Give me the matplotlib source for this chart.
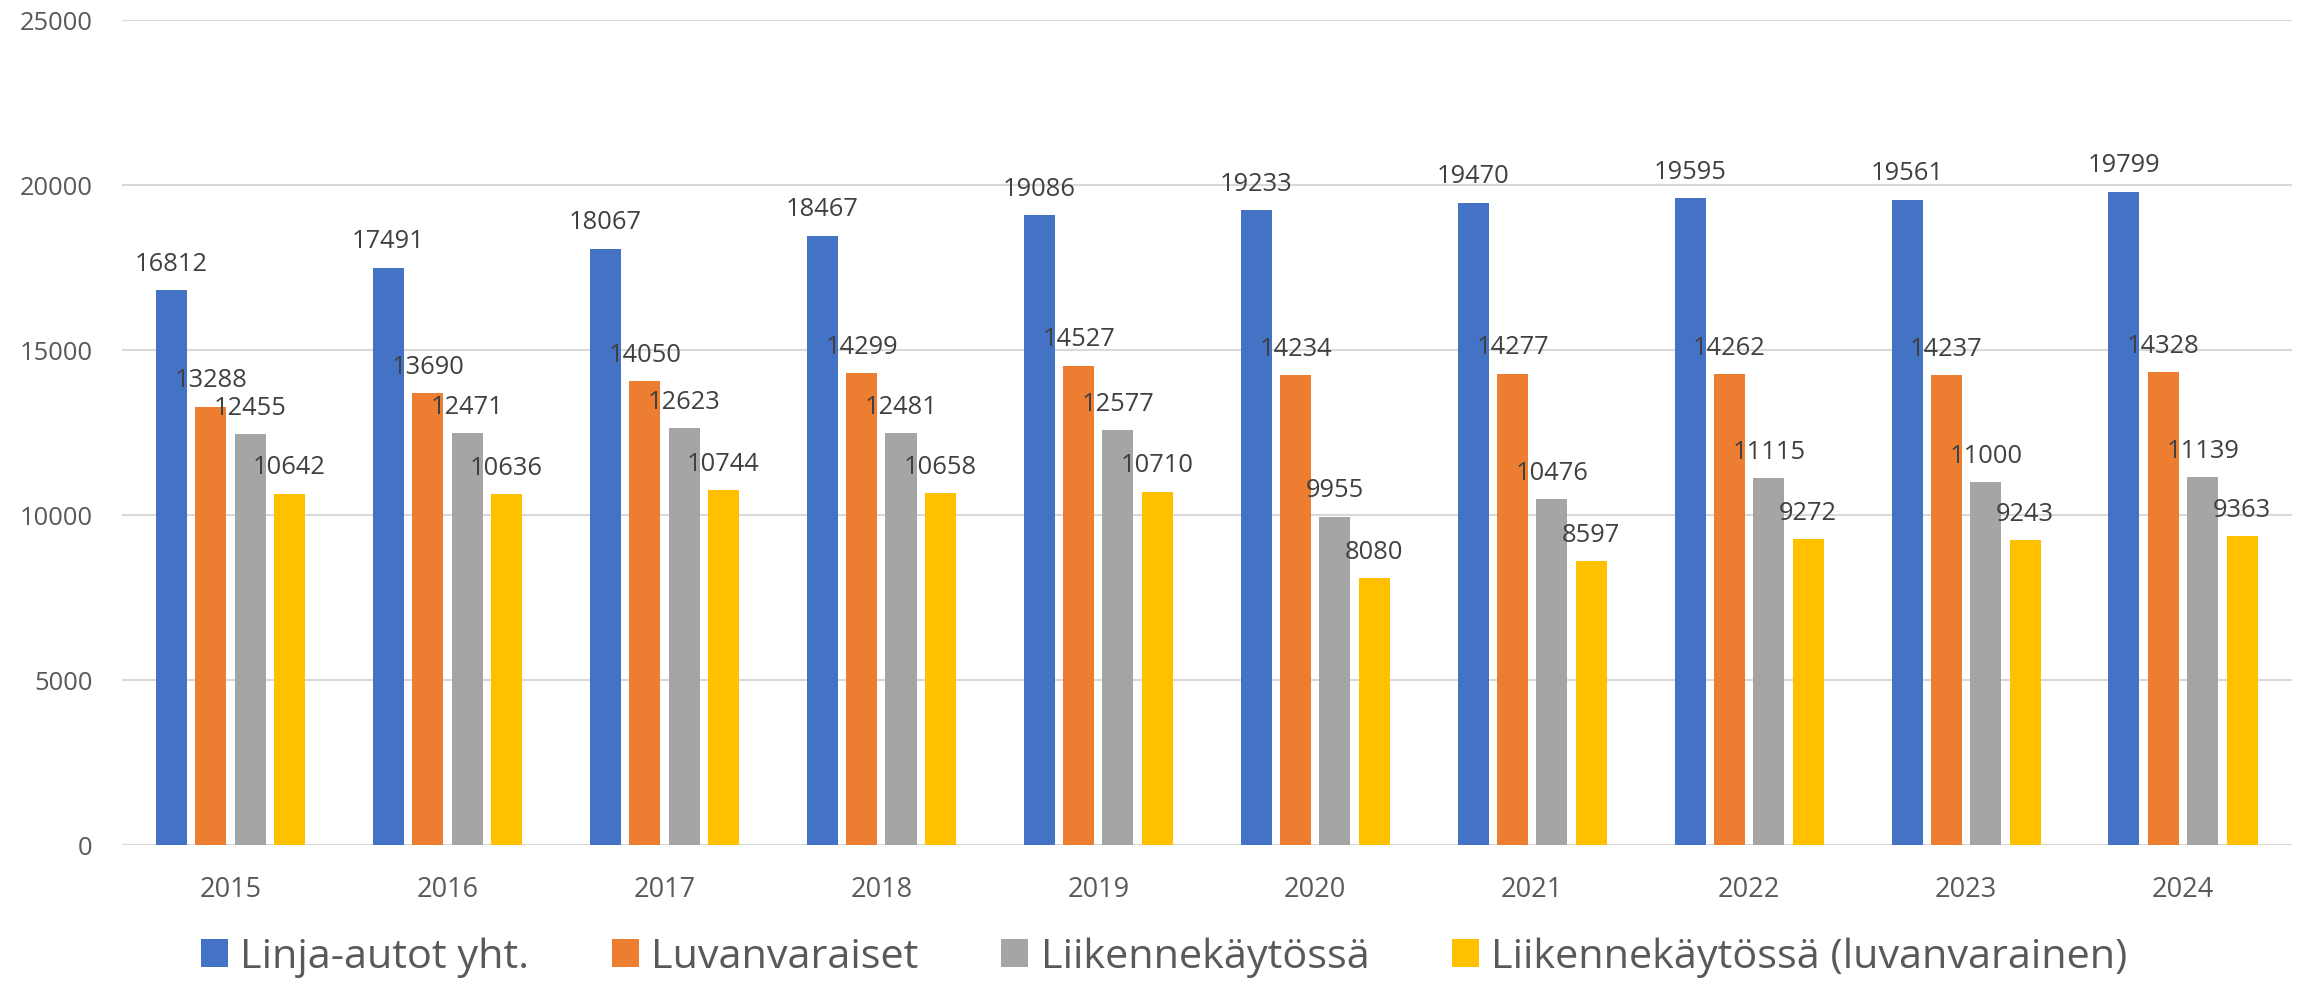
import numpy as np
import matplotlib.pyplot as plt

plt.rcParams['font.family'] = ['Open Sans', 'DejaVu Sans']

years = ['2015', '2016', '2017', '2018', '2019', '2020', '2021', '2022', '2023', '2024']
series_names = ['Linja-autot yht.', 'Luvanvaraiset', 'Liikennekäytössä',
                'Liikennekäytössä (luvanvarainen)']
linja = [16812, 17491, 18067, 18467, 19086, 19233, 19470, 19595, 19561, 19799]
luvanvaraiset = [13288, 13690, 14050, 14299, 14527, 14234, 14277, 14262, 14237, 14328]
liikenne = [12455, 12471, 12623, 12481, 12577, 9955, 10476, 11115, 11000, 11139]
liikenne_luv = [10642, 10636, 10744, 10658, 10710, 8080, 8597, 9272, 9243, 9363]
colors = ['#4472C4', '#ED7D31', '#A5A5A5', '#FFC000']

fig = plt.figure(figsize=(23.1, 9.81), dpi=100)
ax = fig.add_axes([0.0528, 0.1386, 0.9392, 0.841])

x = np.arange(len(years))
pitch = 0.1815
width = 0.143
all_series = [linja, luvanvaraiset, liikenne, liikenne_luv]
for k, (vals, name, col) in enumerate(zip(all_series, series_names, colors)):
    pos = x + (k - 1.5) * pitch
    ax.bar(pos, vals, width=width, color=col, label=name, zorder=2)
    for px, v in zip(pos, vals):
        ax.annotate(str(v), (px, v), xytext=(0, 14), textcoords='offset points',
                    ha='center', va='baseline', fontsize=18.4, color='#404040', zorder=3)

ax.set_xlim(-0.5, len(years) - 0.5)
ax.set_ylim(0, 25000)
ax.set_yticks(np.arange(0, 25001, 5000))
ax.set_xticks(x)
ax.set_xticklabels(years)
ax.yaxis.grid(True, color='#D9D9D9', linewidth=1.5, zorder=0)
ax.set_axisbelow(True)
for s in ax.spines.values():
    s.set_visible(False)
ax.tick_params(axis='y', length=0, pad=21, labelsize=18.4, labelcolor='#595959')
ax.tick_params(axis='x', length=0, pad=22, labelsize=19.5, labelcolor='#595959')

fig.legend(loc='center', bbox_to_anchor=(0.504, 0.024), ncol=4, frameon=False,
           fontsize=29.8, labelcolor='#595959', handlelength=0.65, handleheight=0.65,
           handletextpad=0.3, columnspacing=2.0, borderaxespad=0, borderpad=0)

fig.savefig('out.png', dpi=100)
